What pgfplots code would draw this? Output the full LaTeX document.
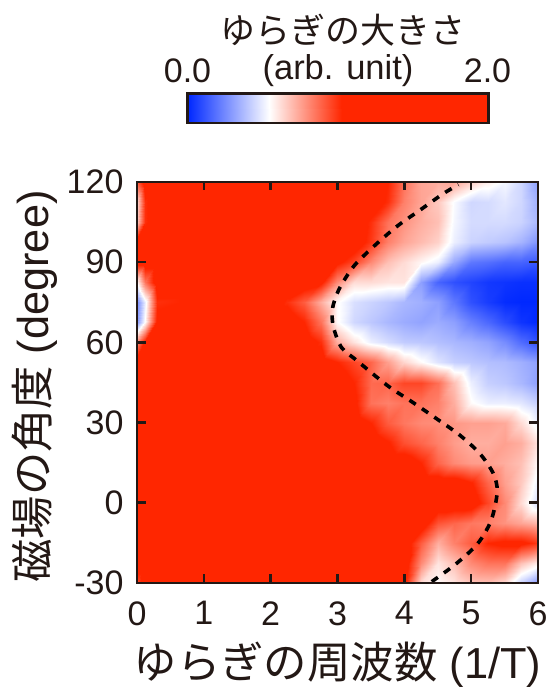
\documentclass[border=0pt]{standalone}
\usepackage{pgfplots}
\usepackage{fontspec}
\pgfplotsset{compat=1.18}
\setmainfont{Liberation Sans}
\newfontfamily\cjk{Noto Sans CJK JP}
\definecolor{ink}{RGB}{35,24,21}
\pgfplotsset{
  colormap={bwr}{rgb255(0)=(0,40,255) rgb255(270)=(255,255,255) rgb255(510)=(255,38,0) rgb255(1000)=(255,38,0)},
}
\begin{document}
\begin{tikzpicture}[x=1pt,y=1pt,text=ink]
\useasboundingbox (0,0) rectangle (549,689);
\begin{axis}[
  at={(137pt,106pt)},anchor=south west,
  scale only axis,width=401pt,height=401pt,
  xmin=0,xmax=6,ymin=-30,ymax=120,
  xtick={0,1,2,3,4,5,6},ytick={-30,0,30,60,90,120},
  tick align=inside,tick pos=both,
  major tick length=8.5pt,
  every tick/.style={line width=2.6pt,ink},
  axis line style={line width=2.8pt,ink},
  axis on top,
  colormap name=bwr,point meta min=0,point meta max=2,
  /pgf/number format/assume math mode=true,
  tick label style={font=\fontsize{34}{36}\selectfont,text=ink},
  xticklabel style={yshift=-15pt},
  yticklabel style={xshift=-10pt},
  clip=true,
]
\addplot[surf,shader=interp,mesh/cols=20,point meta=explicit] coordinates {
(0,120)[.9] (.12,120)[1.1] (.3,120)[1.1] (2,120)[1.1] (2.25,120)[1.1] (2.5,120)[1.1] (2.75,120)[1.1] (3,120)[1.1] (3.25,120)[1.1] (3.5,120)[1.1] (3.75,120)[1.02] (4,120)[.85] (4.25,120)[.74] (4.5,120)[.72] (4.75,120)[.74] (5,120)[.65] (5.25,120)[.58] (5.5,120)[.52] (5.75,120)[.44] (6,120)[.3]
(0,112.5)[.62] (.12,112.5)[1] (.3,112.5)[1.1] (2,112.5)[1.1] (2.25,112.5)[1.1] (2.5,112.5)[1.1] (2.75,112.5)[1.1] (3,112.5)[1.1] (3.25,112.5)[1.1] (3.5,112.5)[1.1] (3.75,112.5)[1] (4,112.5)[.82] (4.25,112.5)[.74] (4.5,112.5)[.66] (4.75,112.5)[.53] (5,112.5)[.44] (5.25,112.5)[.45] (5.5,112.5)[.48] (5.75,112.5)[.44] (6,112.5)[.34]
(0,105)[.65] (.12,105)[1] (.3,105)[1.1] (2,105)[1.1] (2.25,105)[1.1] (2.5,105)[1.1] (2.75,105)[1.1] (3,105)[1.1] (3.25,105)[1.1] (3.5,105)[1] (3.75,105)[.85] (4,105)[.78] (4.25,105)[.72] (4.5,105)[.68] (4.75,105)[.52] (5,105)[.45] (5.25,105)[.45] (5.5,105)[.45] (5.75,105)[.43] (6,105)[.36]
(0,97.5)[1.1] (.12,97.5)[1.1] (.3,97.5)[1.1] (2,97.5)[1.1] (2.25,97.5)[1.1] (2.5,97.5)[1.1] (2.75,97.5)[1.1] (3,97.5)[1.1] (3.25,97.5)[1.1] (3.5,97.5)[.98] (3.75,97.5)[.82] (4,97.5)[.74] (4.25,97.5)[.69] (4.5,97.5)[.64] (4.75,97.5)[.5] (5,97.5)[.43] (5.25,97.5)[.41] (5.5,97.5)[.39] (5.75,97.5)[.35] (6,97.5)[.27]
(0,90)[1.1] (.12,90)[1.1] (.3,90)[1.1] (2,90)[1.1] (2.25,90)[1.1] (2.5,90)[1.1] (2.75,90)[1.1] (3,90)[1.05] (3.25,90)[.95] (3.5,90)[.8] (3.75,90)[.68] (4,90)[.62] (4.25,90)[.56] (4.5,90)[.5] (4.75,90)[.32] (5,90)[.2] (5.25,90)[.18] (5.5,90)[.15] (5.75,90)[.15] (6,90)[.12]
(0,82.5)[.55] (.12,82.5)[.85] (.3,82.5)[1.1] (2,82.5)[1.1] (2.25,82.5)[1.1] (2.5,82.5)[1.1] (2.75,82.5)[1.05] (3,82.5)[.8] (3.25,82.5)[.62] (3.5,82.5)[.62] (3.75,82.5)[.6] (4,82.5)[.6] (4.25,82.5)[.3] (4.5,82.5)[.15] (4.75,82.5)[.1] (5,82.5)[.07] (5.25,82.5)[.04] (5.5,82.5)[.03] (5.75,82.5)[.02] (6,82.5)[.02]
(0,75)[.25] (.12,75)[.5] (.3,75)[1] (2,75)[1.1] (2.25,75)[1] (2.5,75)[.9] (2.75,75)[.72] (3,75)[.55] (3.25,75)[.46] (3.5,75)[.43] (3.75,75)[.4] (4,75)[.36] (4.25,75)[.34] (4.5,75)[.3] (4.75,75)[.2] (5,75)[.1] (5.25,75)[.05] (5.5,75)[.01] (5.75,75)[0] (6,75)[0]
(0,67.5)[.28] (.12,67.5)[.55] (.3,67.5)[1.05] (2,67.5)[1.1] (2.25,67.5)[1.1] (2.5,67.5)[1.02] (2.75,67.5)[.85] (3,67.5)[.55] (3.25,67.5)[.44] (3.5,67.5)[.4] (3.75,67.5)[.36] (4,67.5)[.33] (4.25,67.5)[.31] (4.5,67.5)[.33] (4.75,67.5)[.3] (5,67.5)[.22] (5.25,67.5)[.16] (5.5,67.5)[.09] (5.75,67.5)[.03] (6,67.5)[0]
(0,60)[.8] (.12,60)[1.05] (.3,60)[1.1] (2,60)[1.1] (2.25,60)[1.1] (2.5,60)[1.1] (2.75,60)[1] (3,60)[.72] (3.25,60)[.6] (3.5,60)[.5] (3.75,60)[.45] (4,60)[.41] (4.25,60)[.4] (4.5,60)[.38] (4.75,60)[.36] (5,60)[.34] (5.25,60)[.31] (5.5,60)[.25] (5.75,60)[.17] (6,60)[.1]
(0,52.5)[1.1] (.12,52.5)[1.1] (.3,52.5)[1.1] (2,52.5)[1.1] (2.25,52.5)[1.1] (2.5,52.5)[1.1] (2.75,52.5)[1.1] (3,52.5)[1.02] (3.25,52.5)[.95] (3.5,52.5)[.88] (3.75,52.5)[.75] (4,52.5)[.63] (4.25,52.5)[.55] (4.5,52.5)[.47] (4.75,52.5)[.42] (5,52.5)[.4] (5.25,52.5)[.38] (5.5,52.5)[.37] (5.75,52.5)[.34] (6,52.5)[.3]
(0,45)[1.1] (.12,45)[1.1] (.3,45)[1.1] (2,45)[1.1] (2.25,45)[1.1] (2.5,45)[1.1] (2.75,45)[1.1] (3,45)[1.1] (3.25,45)[1.02] (3.5,45)[.87] (3.75,45)[.88] (4,45)[.95] (4.25,45)[.95] (4.5,45)[.86] (4.75,45)[.68] (5,45)[.5] (5.25,45)[.42] (5.5,45)[.4] (5.75,45)[.36] (6,45)[.3]
(0,37.5)[1.1] (.12,37.5)[1.1] (.3,37.5)[1.1] (2,37.5)[1.1] (2.25,37.5)[1.1] (2.5,37.5)[1.1] (2.75,37.5)[1.1] (3,37.5)[1.1] (3.25,37.5)[1.05] (3.5,37.5)[.85] (3.75,37.5)[.82] (4,37.5)[.85] (4.25,37.5)[.85] (4.5,37.5)[.82] (4.75,37.5)[.72] (5,37.5)[.55] (5.25,37.5)[.5] (5.5,37.5)[.5] (5.75,37.5)[.48] (6,37.5)[.42]
(0,30)[1.1] (.12,30)[1.1] (.3,30)[1.1] (2,30)[1.1] (2.25,30)[1.1] (2.5,30)[1.1] (2.75,30)[1.1] (3,30)[1.1] (3.25,30)[1.1] (3.5,30)[1.02] (3.75,30)[.9] (4,30)[.84] (4.25,30)[.8] (4.5,30)[.79] (4.75,30)[.77] (5,30)[.75] (5.25,30)[.75] (5.5,30)[.73] (5.75,30)[.62] (6,30)[.5]
(0,22.5)[1.1] (.12,22.5)[1.1] (.3,22.5)[1.1] (2,22.5)[1.1] (2.25,22.5)[1.1] (2.5,22.5)[1.1] (2.75,22.5)[1.1] (3,22.5)[1.1] (3.25,22.5)[1.1] (3.5,22.5)[1.1] (3.75,22.5)[1.03] (4,22.5)[.93] (4.25,22.5)[.88] (4.5,22.5)[.82] (4.75,22.5)[.76] (5,22.5)[.72] (5.25,22.5)[.72] (5.5,22.5)[.75] (5.75,22.5)[.72] (6,22.5)[.6]
(0,15)[1.1] (.12,15)[1.1] (.3,15)[1.1] (2,15)[1.1] (2.25,15)[1.1] (2.5,15)[1.1] (2.75,15)[1.1] (3,15)[1.1] (3.25,15)[1.1] (3.5,15)[1.1] (3.75,15)[1.1] (4,15)[1.1] (4.25,15)[1.02] (4.5,15)[.88] (4.75,15)[.8] (5,15)[.76] (5.25,15)[.75] (5.5,15)[.72] (5.75,15)[.68] (6,15)[.55]
(0,7.5)[1.1] (.12,7.5)[1.1] (.3,7.5)[1.1] (2,7.5)[1.1] (2.25,7.5)[1.1] (2.5,7.5)[1.1] (2.75,7.5)[1.1] (3,7.5)[1.1] (3.25,7.5)[1.1] (3.5,7.5)[1.1] (3.75,7.5)[1.1] (4,7.5)[1.1] (4.25,7.5)[1.1] (4.5,7.5)[1.1] (4.75,7.5)[1.1] (5,7.5)[1.03] (5.25,7.5)[.88] (5.5,7.5)[.75] (5.75,7.5)[.66] (6,7.5)[.5]
(0,0)[1.1] (.12,0)[1.1] (.3,0)[1.1] (2,0)[1.1] (2.25,0)[1.1] (2.5,0)[1.1] (2.75,0)[1.1] (3,0)[1.1] (3.25,0)[1.1] (3.5,0)[1.1] (3.75,0)[1.1] (4,0)[1.1] (4.25,0)[1.1] (4.5,0)[1.1] (4.75,0)[1.1] (5,0)[1.1] (5.25,0)[.95] (5.5,0)[.8] (5.75,0)[.62] (6,0)[.45]
(0,-7.5)[1.1] (.12,-7.5)[1.1] (.3,-7.5)[1.1] (2,-7.5)[1.1] (2.25,-7.5)[1.1] (2.5,-7.5)[1.1] (2.75,-7.5)[1.1] (3,-7.5)[1.1] (3.25,-7.5)[1.1] (3.5,-7.5)[1.1] (3.75,-7.5)[1.1] (4,-7.5)[1.1] (4.25,-7.5)[1.1] (4.5,-7.5)[.92] (4.75,-7.5)[.88] (5,-7.5)[.84] (5.25,-7.5)[.82] (5.5,-7.5)[.78] (5.75,-7.5)[.74] (6,-7.5)[.7]
(0,-15)[1.1] (.12,-15)[1.1] (.3,-15)[1.1] (2,-15)[1.1] (2.25,-15)[1.1] (2.5,-15)[1.1] (2.75,-15)[1.1] (3,-15)[1.1] (3.25,-15)[1.1] (3.5,-15)[1.1] (3.75,-15)[1.1] (4,-15)[1.1] (4.25,-15)[.9] (4.5,-15)[.72] (4.75,-15)[.82] (5,-15)[.9] (5.25,-15)[1.02] (5.5,-15)[1.05] (5.75,-15)[1.05] (6,-15)[.98]
(0,-22.5)[1.1] (.12,-22.5)[1.1] (.3,-22.5)[1.1] (2,-22.5)[1.1] (2.25,-22.5)[1.1] (2.5,-22.5)[1.1] (2.75,-22.5)[1.1] (3,-22.5)[1.1] (3.25,-22.5)[1.1] (3.5,-22.5)[1.1] (3.75,-22.5)[1.1] (4,-22.5)[1.1] (4.25,-22.5)[.8] (4.5,-22.5)[.6] (4.75,-22.5)[.68] (5,-22.5)[.8] (5.25,-22.5)[.85] (5.5,-22.5)[.85] (5.75,-22.5)[.68] (6,-22.5)[.58]
(0,-30)[.95] (.12,-30)[1.1] (.3,-30)[1.1] (2,-30)[1.1] (2.25,-30)[1.1] (2.5,-30)[1.1] (2.75,-30)[1.1] (3,-30)[1.1] (3.25,-30)[1.1] (3.5,-30)[1.1] (3.75,-30)[1.1] (4,-30)[1.05] (4.25,-30)[.62] (4.5,-30)[.55] (4.75,-30)[.6] (5,-30)[.67] (5.25,-30)[.68] (5.5,-30)[.62] (5.75,-30)[.42] (6,-30)[.28]
};
\addplot[smooth,black,line width=3.6pt,dash pattern=on 7.5pt off 7.5pt] coordinates {
(4.41,-29.5) (4.78,-22.7) (5.10,-15.2) (5.30,-6.5) (5.39,4.1) (5.33,11) (5.13,18.4) (4.83,25.3) (4.48,31.5) (4.13,37.5) (3.74,44) (3.29,53.2) (3.06,58.1) (2.94,65.6) (2.92,71.7) (2.97,76.7) (3.06,81.6) (3.26,89) (3.59,97) (3.91,103.8) (4.23,109.4) (4.58,115.6) (4.81,119)
};
\end{axis}
\begin{axis}[
  at={(187.5pt,566pt)},anchor=south west,
  scale only axis,width=301pt,height=29.5pt,
  xmin=0,xmax=2,ymin=0,ymax=1,
  xtick=\empty,ytick=\empty,
  axis line style={line width=2.8pt,ink},
  axis on top,
  colormap name=bwr,point meta min=0,point meta max=2,
]
\addplot[surf,shader=interp,mesh/cols=2,point meta=explicit] coordinates {
(0,0)[0] (2,0)[2]
(0,1)[0] (2,1)[2]
};
\end{axis}
\node[font=\cjk\fontsize{35}{38}\selectfont,anchor=center,text=ink] at (342.5,659) {ゆらぎの大きさ};
\node[font=\fontsize{34.5}{36}\selectfont,anchor=center,text=ink] at (338,618) {(arb. unit)};
\node[font=\fontsize{34}{36}\selectfont,anchor=center,text=ink] at (187.5,618) {0.0};
\node[font=\fontsize{34}{36}\selectfont,anchor=center,text=ink] at (487.5,618) {2.0};
\node[font=\fontsize{43.4}{46}\selectfont,anchor=center,text=ink,inner sep=0pt] at (337.5,24) {{\cjk ゆらぎの周波数} (1/T)};
\node[font=\fontsize{43.3}{46}\selectfont,anchor=center,text=ink,rotate=90,inner sep=0pt] at (35,302.5) {{\cjk 磁場の角度} (degree)};
\end{tikzpicture}
\end{document}
